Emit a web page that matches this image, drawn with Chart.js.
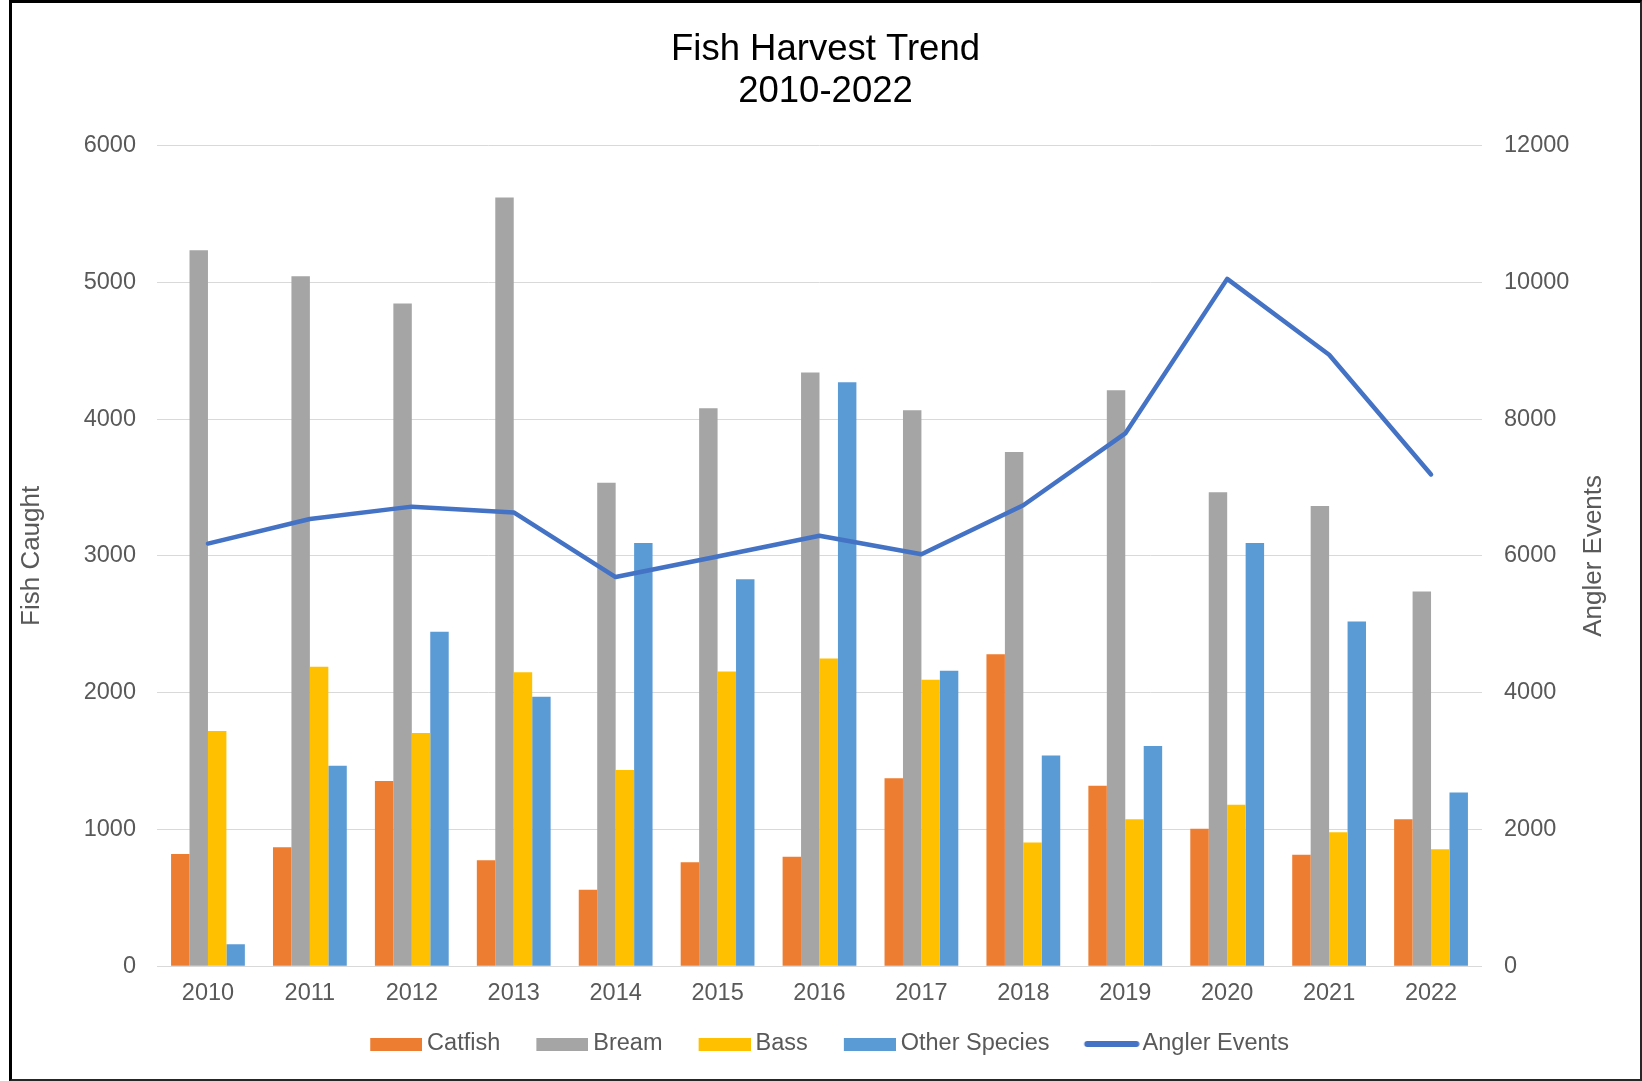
<!DOCTYPE html>
<html>
<head>
<meta charset="utf-8">
<title>Fish Harvest Trend</title>
<script src="https://cdn.jsdelivr.net/npm/chart.js@4.4.1/dist/chart.umd.min.js"></script>
<style>
  html, body { margin: 0; padding: 0; background: #ffffff; overflow: hidden; width: 1642px; height: 1081px; }
  #wrap { position: relative; width: 1642px; height: 1081px; }
  #chart { position: absolute; left: 0; top: 0; width: 1642px; height: 1090px; }
  #frame {
    position: absolute; left: 9px; top: 0; width: 1633px; height: 1081px; box-sizing: border-box;
    border-top: 3px solid #000; border-left: 3px solid #000;
    border-right: 2px solid #262626; border-bottom: 2px solid #262626;
    pointer-events: none;
  }
</style>
</head>
<body>
<div id="wrap">
  <canvas id="chart" width="1642" height="1090"></canvas>
  <div id="frame"></div>
</div>
<script>
// Harvest counts per year and the number of angler events (right axis)
const years = ['2010', '2011', '2012', '2013', '2014', '2015', '2016', '2017', '2018', '2019', '2020', '2021', '2022'];
const catfish = [820, 870, 1355, 775, 560, 760, 800, 1375, 2280, 1320, 1005, 815, 1075];
const bream = [5235, 5045, 4845, 5620, 3535, 4080, 4340, 4065, 3760, 4210, 3465, 3365, 2740];
const bass = [1720, 2190, 1705, 2150, 1435, 2155, 2250, 2095, 905, 1075, 1180, 980, 855];
const otherSpecies = [160, 1465, 2445, 1970, 3095, 2830, 4270, 2160, 1540, 1610, 3095, 2520, 1270];
const anglerEvents = [6180, 6540, 6720, 6635, 5690, 5990, 6295, 6025, 6740, 7790, 10050, 8940, 7190];

const leftTicks = [0, 1000, 2000, 3000, 4000, 5000, 6000];
const rightTicks = [0, 2000, 4000, 6000, 8000, 10000, 12000];

const chartTitle = ['Fish Harvest Trend', '2010-2022'];
const leftAxisTitle = 'Fish Caught';
const rightAxisTitle = 'Angler Events';

const FONT = "'Liberation Sans', Arial, Helvetica, sans-serif";
const TEXT_GRAY = '#595959';
const GRID = '#D9D9D9';
const TICK_SIZE = 23.5;
const AXIS_TITLE_SIZE = 26;

// Legend swatches. Each image is centred on the legend box, so the visible
// part sits at its right end, just before the label text.
function blockSwatch(color) {
  const c = document.createElement('canvas');
  c.width = 67; c.height = 13;
  const g = c.getContext('2d');
  g.fillStyle = color;
  g.fillRect(15, 0, 52, 13);
  return c;
}
function lineSwatch(color) {
  const c = document.createElement('canvas');
  c.width = 71; c.height = 8;
  const g = c.getContext('2d');
  g.strokeStyle = color;
  g.lineWidth = 6;
  g.lineCap = 'round';
  g.beginPath();
  g.moveTo(18.5, 4);
  g.lineTo(67.5, 4);
  g.stroke();
  return c;
}

// Right axis title reads bottom-to-top, so it is painted here rather than by the scale
const rightTitlePlugin = {
  id: 'rightTitle',
  afterDraw(chart) {
    const s = chart.scales.y1;
    const ctx = chart.ctx;
    ctx.save();
    ctx.font = AXIS_TITLE_SIZE + 'px ' + FONT;
    ctx.fillStyle = TEXT_GRAY;
    ctx.textAlign = 'center';
    ctx.textBaseline = 'middle';
    ctx.translate(s.right - 18, (chart.chartArea.top + chart.chartArea.bottom) / 2);
    ctx.rotate(-Math.PI / 2);
    ctx.fillText(rightAxisTitle, 0, 0);
    ctx.restore();
  }
};

const barCommon = { categoryPercentage: 0.724, barPercentage: 1.0, borderWidth: 0, yAxisID: 'y', order: 1 };

new Chart(document.getElementById('chart'), {
  type: 'bar',
  data: {
    labels: years,
    datasets: [
      Object.assign({ label: 'Catfish', data: catfish, backgroundColor: '#ED7D31' }, barCommon),
      Object.assign({ label: 'Bream', data: bream, backgroundColor: '#A5A5A5' }, barCommon),
      Object.assign({ label: 'Bass', data: bass, backgroundColor: '#FFC000' }, barCommon),
      Object.assign({ label: 'Other Species', data: otherSpecies, backgroundColor: '#5B9BD5' }, barCommon),
      {
        type: 'line', label: 'Angler Events', data: anglerEvents, yAxisID: 'y1', order: 0,
        borderColor: '#4472C4', backgroundColor: '#4472C4', borderWidth: 4.5,
        borderJoinStyle: 'round', borderCapStyle: 'round',
        pointRadius: 0, pointHoverRadius: 0, tension: 0, fill: false
      }
    ]
  },
  options: {
    responsive: false,
    animation: false,
    layout: { padding: { left: 39, right: 30, top: 0, bottom: 24.25 } },
    plugins: {
      tooltip: { enabled: false },
      title: {
        display: true,
        text: chartTitle,
        color: '#000000',
        font: { family: FONT, size: 36.5, weight: 'normal', lineHeight: 42 / 36.5 },
        padding: { top: 29, bottom: 32.5 }
      },
      legend: {
        position: 'bottom',
        labels: {
          color: TEXT_GRAY,
          font: { family: FONT, size: TICK_SIZE },
          usePointStyle: true,
          pointStyleWidth: 53.25,
          boxHeight: 13,
          padding: 28,
          sort: (a, b) => a.datasetIndex - b.datasetIndex,
          generateLabels(chart) {
            const items = Chart.defaults.plugins.legend.labels.generateLabels(chart);
            items.forEach(it => {
              const ds = chart.data.datasets[it.datasetIndex];
              it.pointStyle = ds.type === 'line' ? lineSwatch(ds.borderColor) : blockSwatch(ds.backgroundColor);
              it.lineWidth = 0;
            });
            return items;
          }
        }
      }
    },
    scales: {
      x: {
        grid: { display: false, drawTicks: false },
        border: { display: false },
        ticks: { color: TEXT_GRAY, font: { family: FONT, size: TICK_SIZE }, padding: 13, maxRotation: 0 },
        afterFit(scale) { scale.height = 38; }
      },
      y: {
        position: 'left',
        min: leftTicks[0], max: leftTicks[leftTicks.length - 1],
        afterBuildTicks(scale) { scale.ticks = leftTicks.map(v => ({ value: v })); },
        afterFit(scale) { scale.width = 118; },
        grid: { color: GRID, lineWidth: 1, drawTicks: false },
        border: { display: false },
        ticks: { color: TEXT_GRAY, font: { family: FONT, size: TICK_SIZE }, padding: 21, callback: v => String(v) },
        title: {
          display: true, text: leftAxisTitle, color: TEXT_GRAY,
          font: { family: FONT, size: AXIS_TITLE_SIZE }, padding: { top: -23.2, bottom: 0 }
        }
      },
      y1: {
        position: 'right',
        min: rightTicks[0], max: rightTicks[rightTicks.length - 1],
        afterBuildTicks(scale) { scale.ticks = rightTicks.map(v => ({ value: v })); },
        afterFit(scale) { scale.width = 130; },
        grid: { drawOnChartArea: false, drawTicks: false },
        border: { display: false },
        ticks: { color: TEXT_GRAY, font: { family: FONT, size: TICK_SIZE }, padding: 22, callback: v => String(v) }
      }
    }
  },
  plugins: [rightTitlePlugin]
});
</script>
</body>
</html>
